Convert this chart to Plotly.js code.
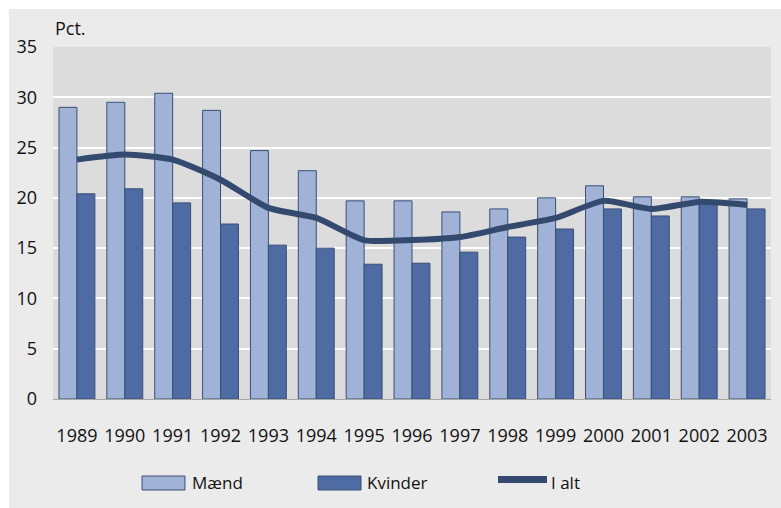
<!DOCTYPE html>
<html>
<head>
<meta charset="utf-8">
<script src="https://cdn.plot.ly/plotly-3.0.1.min.js"></script>
<style>
html,body{margin:0;padding:0;background:#ffffff;}
#chart{position:absolute;left:9px;top:9px;width:772px;height:499px;}
</style>
</head>
<body>
<div id="chart"></div>
<script>
var years = ['1989','1990','1991','1992','1993','1994','1995','1996','1997','1998','1999','2000','2001','2002','2003'];
var maend = [29.0, 29.5, 30.4, 28.7, 24.7, 22.7, 19.7, 19.7, 18.6, 18.9, 20.0, 21.2, 20.1, 20.1, 19.9];
var kvinder = [20.4, 20.9, 19.5, 17.4, 15.3, 15.0, 13.4, 13.5, 14.6, 16.1, 16.9, 18.9, 18.2, 19.7, 18.9];
var ialt = [23.8, 24.3, 23.8, 21.8, 19.0, 18.0, 15.8, 15.8, 16.1, 17.1, 18.0, 19.7, 18.9, 19.6, 19.3];
var seriesNames = ['Mænd', 'Kvinder', 'I alt'];
var yTicks = [0, 5, 10, 15, 20, 25, 30, 35];

var FONT = 'Open Sans, Noto Sans, sans-serif';
var cLight = '#a0b3d6', cDark = '#4e6ba3', cLine = '#34496e', cEdge = '#3a4e76';

var traces = [
  {type:'bar', x:years, y:maend, name:seriesNames[0], marker:{color:cLight, line:{color:cEdge, width:1}}, showlegend:false, hoverinfo:'x+y'},
  {type:'bar', x:years, y:kvinder, name:seriesNames[1], marker:{color:cDark, line:{color:cEdge, width:1}}, showlegend:false, hoverinfo:'x+y'},
  {type:'scatter', mode:'lines', x:years, y:ialt, name:seriesNames[2], line:{color:cLine, width:6, shape:'spline', smoothing:0.6}, showlegend:false}
];

// custom legend (wide swatches as in the original)
var lg = [
  {x0:0.1240, x1:0.1838, tx:0.1908, kind:'bar', color:cLight},
  {x0:0.3691, x1:0.4290, tx:0.4345, kind:'bar', color:cDark},
  {x0:0.6198, x1:0.6880, tx:0.6908, kind:'line', color:cLine}
];
var shapes = [], annotations = [];
lg.forEach(function(d, i){
  if (d.kind === 'bar') {
    shapes.push({type:'rect', xref:'paper', yref:'paper', x0:d.x0, x1:d.x1, y0:-0.2585, y1:-0.2188,
      fillcolor:d.color, line:{color:cEdge, width:1}});
  } else {
    shapes.push({type:'line', xref:'paper', yref:'paper', x0:d.x0, x1:d.x1, y0:-0.2287, y1:-0.2287,
      line:{color:d.color, width:7}});
  }
  annotations.push({xref:'paper', yref:'paper', x:d.tx, y:-0.2358, xanchor:'left', yanchor:'middle',
    text:seriesNames[i], showarrow:false, font:{family:FONT, size:17, color:'#111111'}});
});
annotations.push({xref:'paper', yref:'paper', x:0.0, y:1.054, xanchor:'left', yanchor:'middle',
  text:'Pct.', showarrow:false, font:{family:FONT, size:18, color:'#111111'}});

var layout = {
  width:772, height:499,
  margin:{l:44, r:10, t:38, b:109, pad:0},
  paper_bgcolor:'#ebebeb',
  plot_bgcolor:'#dcdcdc',
  barmode:'group', bargap:0.25, bargroupgap:0,
  showlegend:false,
  font:{family:FONT, size:18, color:'#111111'},
  xaxis:{type:'category', showgrid:false, showline:true, linecolor:'#a6a6a6', linewidth:1,
    ticks:'', tickangle:0, tickfont:{family:FONT, size:18, color:'#111111'}, ticklabelstandoff:20},
  yaxis:{range:[0,35], tickvals:yTicks, ticktext:yTicks.map(String), showgrid:true, gridcolor:'#ffffff', gridwidth:2,
    zeroline:false, showline:false, ticks:'', tickfont:{family:FONT, size:18, color:'#111111'}, ticklabelstandoff:15},
  shapes:shapes,
  annotations:annotations
};

Plotly.newPlot('chart', traces, layout, {displayModeBar:false, staticPlot:true});
</script>
</body>
</html>
